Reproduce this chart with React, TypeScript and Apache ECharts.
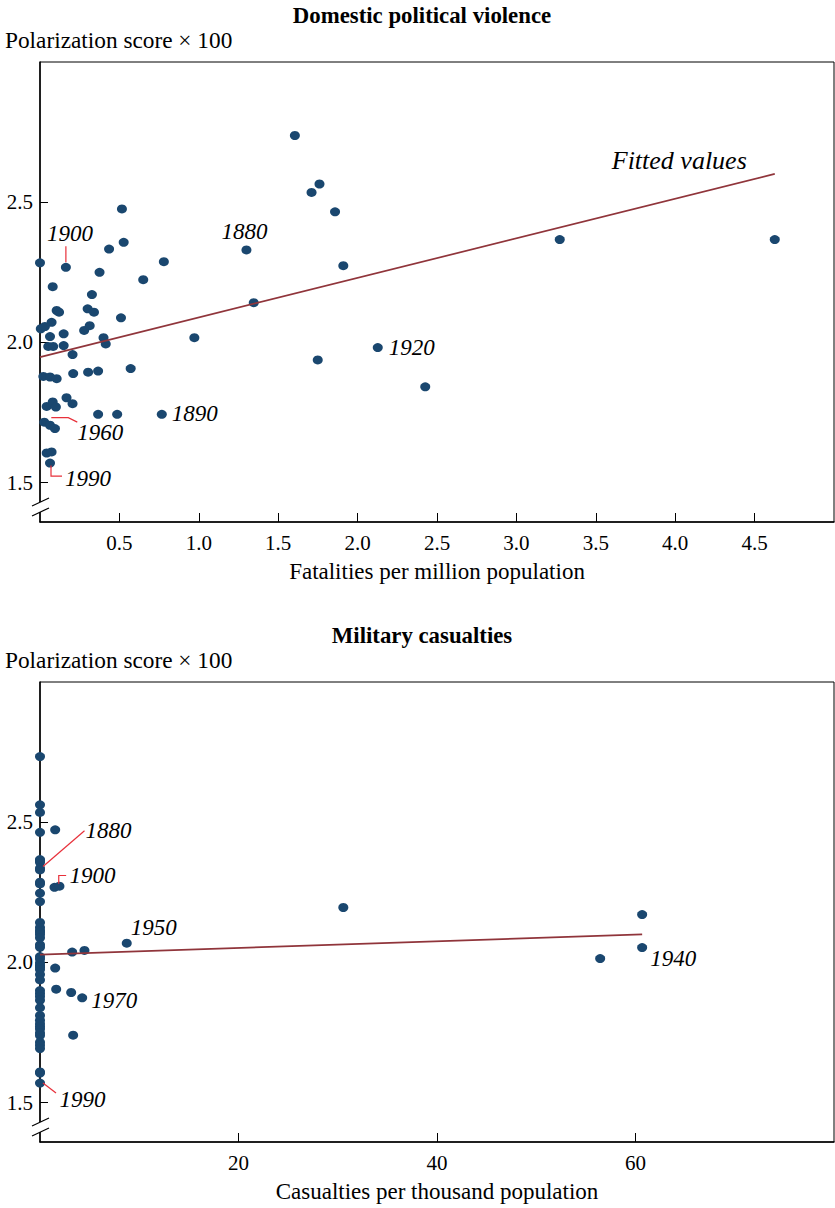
import React, { useEffect, useRef } from "react";
import * as echarts from "echarts";

const NAVY = "#1a476f";
const MAROON = "#90353b";
const RED = "#e8303a";
const FONT = "'Liberation Serif', 'DejaVu Serif', 'Times New Roman', serif";

// ---- Domestic political violence (fatalities per million, polarization x100)
const violenceX = [0.0, 0.163, 0.08, 0.435, 0.516, 0.527, 0.78, 0.375, 0.65, 0.327, 0.105, 0.12, 0.3, 0.34, 0.51, 0.073, 0.005, 0.031, 0.278, 0.313, 0.063, 0.149, 0.4, 0.414, 0.052, 0.083, 0.149, 0.205, 0.972, 0.571, 0.021, 0.063, 0.105, 0.209, 0.303, 0.366, 0.042, 0.08, 0.1, 0.167, 0.205, 0.366, 0.486, 0.767, 0.027, 0.063, 0.094, 0.042, 0.073, 0.063, 1.605, 1.76, 1.71, 1.858, 1.3, 1.91, 1.346, 2.127, 1.749, 2.426, 3.273, 4.627];
const violenceY = [2.284, 2.268, 2.199, 2.333, 2.476, 2.357, 2.288, 2.25, 2.224, 2.171, 2.114, 2.108, 2.12, 2.108, 2.088, 2.072, 2.049, 2.057, 2.043, 2.06, 2.021, 2.031, 2.017, 1.995, 1.986, 1.986, 1.989, 1.957, 2.017, 1.907, 1.879, 1.877, 1.871, 1.889, 1.894, 1.898, 1.772, 1.788, 1.77, 1.803, 1.782, 1.744, 1.744, 1.744, 1.716, 1.705, 1.693, 1.606, 1.61, 1.57, 2.738, 2.565, 2.535, 2.466, 2.33, 2.274, 2.142, 1.982, 1.938, 1.842, 2.367, 2.367];

// ---- Military casualties (casualties per thousand, polarization x100)
const casualtyX = [0, 0, 0, 0, 0, 0, 0, 0, 0, 0, 0, 0, 0, 0, 0, 0, 0, 0, 0, 0, 0, 0, 0, 0, 0, 0, 0, 0, 0, 0, 0, 0, 0, 0, 0, 0, 0, 0, 0, 0, 0, 0, 0, 0, 0, 0, 0, 1.53, 1.46, 1.96, 1.53, 3.24, 4.48, 8.74, 1.63, 3.14, 4.25, 3.34, 30.56, 60.67, 60.67, 56.44];
const casualtyY = [2.734, 2.562, 2.535, 2.464, 2.367, 2.363, 2.357, 2.336, 2.33, 2.286, 2.28, 2.247, 2.217, 2.143, 2.125, 2.114, 2.108, 2.1, 2.088, 2.063, 2.054, 2.021, 2.012, 1.998, 1.989, 1.983, 1.975, 1.957, 1.938, 1.9, 1.889, 1.879, 1.865, 1.839, 1.811, 1.794, 1.782, 1.772, 1.763, 1.749, 1.74, 1.716, 1.705, 1.693, 1.61, 1.606, 1.57, 2.473, 2.268, 2.272, 1.98, 2.037, 2.043, 2.069, 1.905, 1.893, 1.874, 1.741, 2.196, 2.171, 2.053, 2.014];

// fitted lines (end points)
const violenceFitX = [0, 4.627];
const violenceFitY = [1.948, 2.601];
const casualtyFitX = [0, 60.67];
const casualtyFitY = [2.028, 2.1];

// ticks
const violenceXTicks = [0.5, 1.0, 1.5, 2.0, 2.5, 3.0, 3.5, 4.0, 4.5];
const casualtyXTicks = [20, 40, 60];
const yTicks = [1.5, 2.0, 2.5];

// labelled years
const violenceLabelYears = ["1900", "1880", "1920", "1890", "1960", "1990"];
const violenceLabelX = [0.163, 1.3, 2.127, 0.767, 0.027, 0.063];
const violenceLabelY = [2.268, 2.33, 1.982, 1.744, 1.716, 1.57];
const casualtyLabelYears = ["1880", "1900", "1950", "1970", "1940", "1990"];
const casualtyLabelX = [0, 1.96, 8.74, 4.25, 60.67, 0];
const casualtyLabelY = [2.333, 2.272, 2.069, 1.874, 2.053, 1.57];

// layout of labels: text offset, alignment, connector offsets (pixels)
const violenceLabelLayout = [
  { dx: 4, dy: -34, align: "center", conn: [[0, -21], [0, -5]] },
  { dx: -2, dy: -18, align: "center", conn: null },
  { dx: 11, dy: 0, align: "left", conn: null },
  { dx: 10, dy: -1, align: "left", conn: null },
  { dx: 33, dy: 10, align: "left", conn: [[7, -4.5], [24, -4.5], [33, 0]] },
  { dx: 15, dy: 15, align: "left", conn: [[1, 2.5], [1, 13], [12, 13]] },
];
const casualtyLabelLayout = [
  { dx: 45.5, dy: -38.5, align: "left", conn: [[3, -2.6], [44.5, -38.3]] },
  { dx: 10, dy: -10.7, align: "left", conn: [[-0.7, -2.4], [-0.7, -10.7], [6.7, -10.7]] },
  { dx: 4, dy: -16, align: "left", conn: null },
  { dx: 9, dy: 3, align: "left", conn: null },
  { dx: 8, dy: 11, align: "left", conn: null },
  { dx: 19.5, dy: 16.5, align: "left", conn: [[3, 0], [16, 10]] },
];

const pairs = (xs: number[], ys: number[]) => xs.map((x, i) => [x, ys[i]]);

const tickLabel = { fontFamily: "Liberation Serif", fontSize: 21, color: "#000" };

function makeXAxis(gridIndex: number, max: number, ticks: number[], name: string, digits: number) {
  return {
    gridIndex,
    type: "value",
    min: 0,
    max,
    axisLine: { show: true, onZero: false, lineStyle: { color: "#000", width: 1.5 } },
    axisTick: { show: true, inside: true, length: 9, customValues: ticks, lineStyle: { color: "#000", width: 1 } },
    axisLabel: { ...tickLabel, margin: 10, customValues: ticks, formatter: (v: number) => v.toFixed(digits) },
    splitLine: { show: false },
    name,
    nameLocation: "middle",
    nameGap: 38,
    nameTextStyle: { fontFamily: "Liberation Serif", fontSize: 23, color: "#000" },
  };
}

function makeYAxis(gridIndex: number) {
  return {
    gridIndex,
    type: "value",
    min: 1.36,
    max: 3.0,
    axisLine: { show: true, onZero: false, lineStyle: { color: "#000", width: 1.5 } },
    axisTick: { show: true, inside: true, length: 8, customValues: yTicks, lineStyle: { color: "#000", width: 1 } },
    axisLabel: { ...tickLabel, margin: 7, customValues: yTicks, formatter: (v: number) => v.toFixed(1) },
    splitLine: { show: false },
  };
}

export default function App() {
  const ref = useRef<HTMLDivElement>(null);

  useEffect(() => {
    if (!ref.current) return;
    const chart = echarts.init(ref.current, null, { renderer: "svg" });
    const option: any = {
      animation: false,
      backgroundColor: "#fff",
      grid: [
        { left: 40, right: 1, top: 62, height: 460, show: true, borderColor: "#000", borderWidth: 1, backgroundColor: "#fff" },
        { left: 40, right: 1, top: 682, height: 460, show: true, borderColor: "#000", borderWidth: 1, backgroundColor: "#fff" },
      ],
      xAxis: [
        makeXAxis(0, 5, violenceXTicks, "Fatalities per million population", 1),
        makeXAxis(1, 80, casualtyXTicks, "Casualties per thousand population", 0),
      ],
      yAxis: [makeYAxis(0), makeYAxis(1)],
      series: [
        {
          type: "line",
          xAxisIndex: 0,
          yAxisIndex: 0,
          data: pairs(violenceFitX, violenceFitY),
          showSymbol: false,
          symbol: "none",
          lineStyle: { color: MAROON, width: 1.7 },
        },
        {
          type: "scatter",
          xAxisIndex: 0,
          yAxisIndex: 0,
          data: pairs(violenceX, violenceY),
          symbol: "circle",
          symbolSize: [10, 9],
          itemStyle: { color: NAVY, opacity: 1 },
        },
        {
          type: "line",
          xAxisIndex: 1,
          yAxisIndex: 1,
          data: pairs(casualtyFitX, casualtyFitY),
          showSymbol: false,
          symbol: "none",
          lineStyle: { color: MAROON, width: 1.7 },
        },
        {
          type: "scatter",
          xAxisIndex: 1,
          yAxisIndex: 1,
          data: pairs(casualtyX, casualtyY),
          symbol: "circle",
          symbolSize: [10, 9],
          itemStyle: { color: NAVY, opacity: 1 },
        },
      ],
    };
    chart.setOption(option);

    const graphics: any[] = [];
    const text = (x: number, y: number, t: string, font: string, align = "left") => ({
      type: "text",
      x,
      y,
      z: 120,
      style: { text: t, font, fill: "#000", align, verticalAlign: "middle", textAlign: align, textVerticalAlign: "middle" },
    });

    // titles and y-axis names
    graphics.push(text(422, 15, "Domestic political violence", `bold 22.8px ${FONT}`, "center"));
    graphics.push(text(5, 40, "Polarization score \u00d7 100", `23.3px ${FONT}`, "left"));
    graphics.push(text(422, 635, "Military casualties", `bold 22.8px ${FONT}`, "center"));
    graphics.push(text(5, 660, "Polarization score \u00d7 100", `23.3px ${FONT}`, "left"));

    // axis breaks
    [0, 620].forEach((off) => {
      graphics.push({ type: "rect", z: 110, shape: { x: 35, y: 502 + off, width: 10, height: 10 }, style: { fill: "#fff" } });
      graphics.push({ type: "line", z: 111, shape: { x1: 32, y1: 506 + off, x2: 49, y2: 498 + off }, style: { stroke: "#000", lineWidth: 1.3 } });
      graphics.push({ type: "line", z: 111, shape: { x1: 32, y1: 516 + off, x2: 49, y2: 508 + off }, style: { stroke: "#000", lineWidth: 1.3 } });
    });

    const addLabels = (gi: number, years: string[], xs: number[], ys: number[], layout: any[]) => {
      years.forEach((yr, i) => {
        const p = chart.convertToPixel({ xAxisIndex: gi, yAxisIndex: gi } as any, [xs[i], ys[i]]) as number[];
        const L = layout[i];
        graphics.push(text(p[0] + L.dx, p[1] + L.dy, yr, `italic 23px ${FONT}`, L.align));
        if (L.conn) {
          graphics.push({
            type: "polyline",
            z: 115,
            shape: { points: L.conn.map((c: number[]) => [p[0] + c[0], p[1] + c[1]]) },
            style: { stroke: RED, lineWidth: 1.2, fill: null },
          });
        }
      });
    };
    addLabels(0, violenceLabelYears, violenceLabelX, violenceLabelY, violenceLabelLayout);
    addLabels(1, casualtyLabelYears, casualtyLabelX, casualtyLabelY, casualtyLabelLayout);

    // "Fitted values" label near end of fitted line
    const fe = chart.convertToPixel({ xAxisIndex: 0, yAxisIndex: 0 } as any, [violenceFitX[1], violenceFitY[1]]) as number[];
    graphics.push(text(fe[0] - 28, fe[1] - 13, "Fitted values", `italic 26px ${FONT}`, "right"));

    chart.setOption({ graphic: graphics });

    return () => chart.dispose();
  }, []);

  return (
    <div
      ref={ref}
      style={{ position: "absolute", left: 0, top: 0, width: 835, height: 1208, background: "#fff" }}
    />
  );
}
